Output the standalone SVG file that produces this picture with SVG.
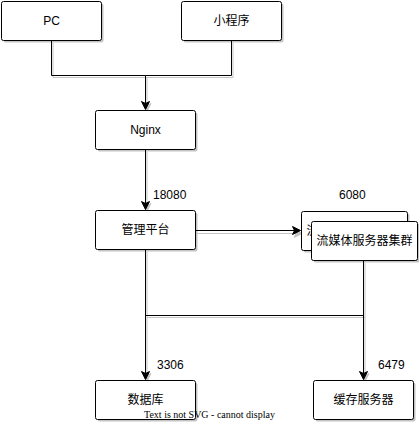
<svg xmlns="http://www.w3.org/2000/svg" width="419" height="424" viewBox="0 0 419 424">
<defs>
<marker id="arr" markerUnits="userSpaceOnUse" markerWidth="10" markerHeight="10" viewBox="0 0 10 10" refX="8" refY="5" orient="auto">
<path d="M0.5,1 L8.5,5 L0.5,9 L2.5,5 Z" fill="#000" stroke="#000" stroke-width="1"/>
</marker>
<marker id="arrs" markerUnits="userSpaceOnUse" markerWidth="10" markerHeight="10" viewBox="0 0 10 10" refX="8" refY="5" orient="auto">
<path d="M0.5,1 L8.5,5 L0.5,9 L2.5,5 Z" fill="#c4c4c4" stroke="#c4c4c4" stroke-width="1"/>
</marker>
<clipPath id="backclip">
<rect x="301" y="211" width="10" height="40"/>
</clipPath>
</defs>
<style>
.box{fill:#fff;stroke:#000;stroke-width:1}
.sh{fill:#c4c4c4;stroke:none}
.t{font-family:"Liberation Sans","Noto Sans CJK SC",Arial,sans-serif;font-size:12px;fill:#000;text-anchor:middle}
.lb{font-family:"Liberation Sans","Noto Sans CJK SC",Arial,sans-serif;font-size:12px;fill:#000}
.ln{fill:none;stroke:#000;stroke-width:1}
.lns{fill:none;stroke:#c4c4c4;stroke-width:1}
.warn{font-family:"Liberation Serif","Times New Roman",serif;font-size:10px;fill:#000;text-anchor:middle}
</style>
<rect width="419" height="424" fill="#fff"/>

<g id="connectors-shadow" transform="translate(1.5,2)">
<path class="lns" d="M51.5,40.5 V75.5 H145.5"/>
<path class="lns" d="M231.5,40.5 V75.5 H145.5 V109" marker-end="url(#arrs)"/>
<path class="lns" d="M145.5,149.5 V209" marker-end="url(#arrs)"/>
<path class="lns" d="M195.5,231.5 H300" marker-end="url(#arrs)"/>
<path class="lns" d="M145.5,249.5 V379" marker-end="url(#arrs)"/>
<path class="lns" d="M145.5,315.5 H363.5"/>
<path class="lns" d="M363.5,260.5 V379" marker-end="url(#arrs)"/>
</g>

<g id="nodes-shadow">
<rect class="sh" x="3.5" y="3.5" width="100" height="39" rx="2"/>
<rect class="sh" x="183.5" y="3.5" width="100" height="39" rx="2"/>
<rect class="sh" x="97.5" y="112.5" width="100" height="39" rx="2"/>
<rect class="sh" x="97.5" y="212.5" width="100" height="39" rx="2"/>
<rect class="sh" x="303.5" y="213.5" width="106" height="39" rx="2"/>
<rect class="sh" x="313.5" y="223.5" width="106" height="39" rx="2"/>
<rect class="sh" x="97.5" y="382.5" width="100" height="39" rx="2"/>
<rect class="sh" x="315.5" y="382.5" width="100" height="39" rx="2"/>
</g>

<g id="connectors">
<path class="ln" d="M51.5,40.5 V75.5 H145.5"/>
<path class="ln" d="M231.5,40.5 V75.5 H145.5 V109" marker-end="url(#arr)"/>
<path class="ln" d="M145.5,149.5 V209" marker-end="url(#arr)"/>
<path class="ln" d="M195.5,230.5 H300" marker-end="url(#arr)"/>
<path class="ln" d="M145.5,249.5 V379" marker-end="url(#arr)"/>
<path class="ln" d="M145.5,315.5 H363.5"/>
<path class="ln" d="M363.5,260.5 V379" marker-end="url(#arr)"/>
<text class="lb" x="153" y="199">18080</text>
<text class="lb" x="339" y="199">6080</text>
<text class="lb" x="157" y="369">3306</text>
<text class="lb" x="378" y="369">6479</text>
</g>

<g id="pc">
<rect class="box" x="1.5" y="1.5" width="100" height="39" rx="2"/>
<text class="t" x="51.5" y="25">PC</text>
</g>
<g id="miniprogram">
<rect class="box" x="181.5" y="1.5" width="100" height="39" rx="2"/>
<text class="t" x="231.5" y="25">小程序</text>
</g>
<g id="nginx">
<rect class="box" x="95.5" y="110.5" width="100" height="39" rx="2"/>
<text class="t" x="145.5" y="134">Nginx</text>
</g>
<g id="platform">
<rect class="box" x="95.5" y="210.5" width="100" height="39" rx="2"/>
<text class="t" x="145.5" y="234">管理平台</text>
</g>
<g id="media-back">
<rect class="box" x="301.5" y="211.5" width="106" height="39" rx="2"/>
<text class="t" x="354.5" y="235" clip-path="url(#backclip)">流媒体服务器集群</text>
</g>
<g id="media-front">
<rect class="box" x="311.5" y="221.5" width="106" height="39" rx="2"/>
<text class="t" x="364.5" y="245">流媒体服务器集群</text>
</g>
<g id="database">
<rect class="box" x="95.5" y="380.5" width="100" height="39" rx="2"/>
<text class="t" x="145.5" y="404">数据库</text>
</g>
<g id="cache">
<rect class="box" x="313.5" y="380.5" width="100" height="39" rx="2"/>
<text class="t" x="363.5" y="404">缓存服务器</text>
</g>

<text class="warn" x="209.5" y="418">Text is not SVG - cannot display</text>
</svg>
